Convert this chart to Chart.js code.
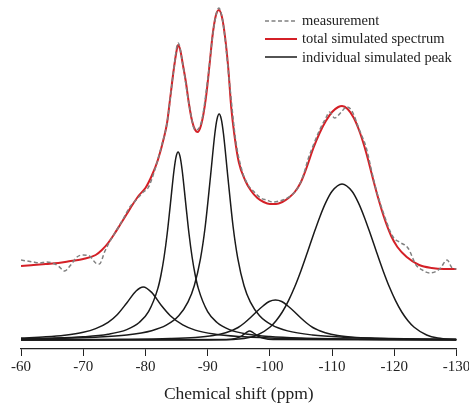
<!DOCTYPE html>
<html>
<head>
<meta charset="utf-8">
<script src="https://cdn.jsdelivr.net/npm/chart.js@4.4.0/dist/chart.umd.min.js"></script>
<style>
  html, body { margin: 0; padding: 0; background: #fff; }
  #wrap { position: relative; width: 469px; height: 407px; }
  #leyenda { position: absolute; left: 265px; top: 11.5px; font-family: "Liberation Serif", "Times New Roman", serif; font-size: 14.5px; color: #222; }
  #leyenda div { height: 18.3px; display: flex; align-items: center; white-space: nowrap; }
  #leyenda svg { margin-right: 5px; }
</style>
</head>
<body>
<div id="wrap">
  <canvas id="espectro" width="469" height="407"></canvas>
  <div id="leyenda"></div>
</div>
<script>
// [ppm, intensidad (u.a.)]
const measurement = [
  [-60, 80], [-61, 79], [-62, 78], [-63, 77], [-64, 78], [-65, 77], [-66, 74], [-67, 69], [-68, 75], [-69, 83],
  [-70, 85], [-71, 84], [-72, 77], [-72.6, 76], [-73.5, 89], [-74.5, 101], [-75.5, 111], [-76.5, 122], [-77.5, 133],
  [-78.5, 140], [-79.5, 147], [-80.5, 153], [-81.5, 170], [-82.5, 192], [-83.5, 218], [-84.5, 268], [-85.25, 297],
  [-86, 276], [-87, 236], [-88, 210], [-89, 218], [-90, 260], [-91, 313], [-91.8, 332], [-92.5, 316], [-93.5, 258],
  [-94.5, 200], [-95.5, 170], [-96.5, 155], [-97.5, 148], [-98.5, 142], [-99.5, 140], [-100.5, 138], [-101.5, 139],
  [-102.5, 141], [-103.5, 145], [-104.5, 152], [-105.5, 167], [-106.1, 180], [-107, 195], [-108, 210], [-109, 222],
  [-109.6, 228], [-110.4, 222], [-111.5, 228], [-112.3, 233], [-113.1, 230], [-114.4, 210], [-115.5, 192],
  [-116.5, 165], [-117.1, 150], [-118.2, 128], [-119.8, 103], [-120.8, 98], [-122.2, 92], [-123.5, 75],
  [-124.5, 70], [-125.7, 67], [-127.3, 71], [-128.5, 80], [-129.3, 72], [-130, 71]
];

const totalSimulated = [
  [-60, 74], [-62, 75], [-64, 76], [-66, 77], [-68, 79], [-70, 81], [-72, 85], [-73, 90], [-74, 97], [-75, 106],
  [-76, 116], [-77, 126], [-78, 136], [-79, 145], [-80, 152], [-81, 164], [-82, 180], [-83, 203], [-83.5, 218],
  [-84, 243], [-84.5, 268], [-85, 289], [-85.25, 295], [-85.6, 290], [-86, 276], [-86.5, 258], [-87, 236],
  [-87.5, 219], [-88, 210], [-88.4, 208], [-88.8, 212], [-89.3, 225], [-89.8, 246], [-90.3, 275], [-90.8, 305],
  [-91.3, 324], [-91.8, 330], [-92.3, 323], [-92.8, 303], [-93.3, 273], [-93.8, 232], [-94.3, 205], [-95, 178],
  [-96, 160], [-97, 149], [-98, 142], [-99, 138], [-100, 136], [-101, 136], [-102, 138], [-103, 142], [-104, 148],
  [-105, 158], [-106, 174], [-107, 192], [-108, 207], [-109, 219], [-110, 228], [-111, 233], [-111.6, 234],
  [-112.5, 231], [-113.5, 222], [-114.5, 207], [-115.5, 187], [-116.5, 163], [-117.5, 140], [-118.5, 120],
  [-119.5, 104], [-120.5, 93], [-122, 83], [-124, 75], [-126, 72], [-128, 71], [-130, 71]
];

// picos individuales
const peak80 = [
  [-60, 2.0], [-64, 3.2], [-67, 4.8], [-70, 7.7], [-72, 11.4], [-74, 17.7], [-75.5, 25.6], [-77, 37], [-78.5, 49],
  [-79.65, 53], [-81, 47.6], [-82.5, 35], [-84, 24.3], [-86, 15.1], [-88, 9.9], [-91, 5.9], [-95, 3.4], [-100, 2.0],
  [-110, 0.9], [-120, 0.5], [-130, 0.3]
];
const peak85 = [
  [-60, 1.2], [-65, 1.8], [-70, 3.2], [-74, 5.8], [-77, 10.4], [-79, 17.5], [-80.5, 28.3], [-82, 51.6], [-82.5, 65],
  [-83, 83], [-83.5, 106.5], [-84, 135.2], [-84.6, 170], [-84.95, 183.9], [-85.25, 188], [-85.55, 183.9], [-85.9, 170],
  [-86.5, 135.2], [-87, 106.5], [-87.5, 83], [-88, 65], [-88.5, 51.6], [-90, 28.3], [-91.5, 17.5], [-93.5, 10.4],
  [-96.5, 5.8], [-100, 3.4], [-105, 1.9], [-115, 0.8], [-130, 0.4]
];
const peak92 = [
  [-60, 1.1], [-66, 1.7], [-72, 2.8], [-77, 5.0], [-81, 9.3], [-83.35, 14.8], [-85.35, 24.2], [-86.85, 38.1],
  [-87.85, 54.3], [-88.85, 81.4], [-89.6, 113], [-90.45, 163], [-91.15, 206], [-91.5, 220.7], [-91.85, 226],
  [-92.2, 220.7], [-92.55, 206], [-93.25, 163], [-94.1, 113], [-94.85, 81.4], [-95.85, 54.3], [-96.85, 38.1],
  [-98.35, 24.2], [-100.35, 14.8], [-102.85, 9.1], [-106.85, 5.0], [-111.85, 2.8], [-116.85, 1.8], [-124, 1.0],
  [-130, 0.8]
];
const peak97 = [
  [-60, 0], [-93, 0.4], [-94.5, 1.6], [-95.5, 4.2], [-96.2, 7.4], [-96.75, 9], [-97.3, 7.4], [-98, 4.2], [-99, 1.6],
  [-100.5, 0.4], [-130, 0]
];
const peak101 = [
  [-60, 0.2], [-66, 0.3], [-76, 0.7], [-84, 1.5], [-88, 2.6], [-90.9, 4.5], [-92.9, 7.2], [-93.9, 9.5], [-94.9, 12.5],
  [-95.9, 17], [-96.9, 22.5], [-97.9, 28.5], [-98.9, 34], [-99.9, 38.5], [-100.9, 40], [-101.9, 38.5], [-102.9, 34],
  [-103.9, 28.5], [-104.9, 22.5], [-105.9, 17], [-106.9, 12.5], [-107.9, 9.5], [-108.9, 7.2], [-110.9, 4.5],
  [-113.9, 2.6], [-117.9, 1.5], [-125.9, 0.7], [-130, 0.5]
];
const peak112 = [
  [-60, 0], [-90, 0], [-95, 0.9], [-98, 5], [-100, 12.7], [-101, 19.3], [-102, 28], [-103, 39.4], [-104, 53.2],
  [-105, 69.3], [-106, 87], [-107, 105.2], [-108, 122.6], [-109, 137.6], [-110, 148.7], [-111.6, 156], [-113.2, 148.7],
  [-114.2, 137.6], [-115.2, 122.6], [-116.2, 105.2], [-117.2, 87], [-118.2, 69.3], [-119.2, 53.2], [-120.2, 39.4],
  [-121.2, 28], [-122.2, 19.3], [-123.2, 12.7], [-125.2, 5], [-127, 1.9], [-130, 0.3]
];

const xTicks = [-60, -70, -80, -90, -100, -110, -120, -130];

const aPuntos = arr => arr.map(p => ({ x: p[0], y: p[1] }));

const linea = {
  pointRadius: 0,
  fill: false,
  tension: 0.4,
  cubicInterpolationMode: 'monotone'
};

const picos = [peak80, peak85, peak92, peak97, peak101, peak112].map(p => ({
  ...linea,
  label: 'individual simulated peak',
  data: aPuntos(p),
  borderColor: '#1a1a1a',
  borderWidth: 1.5
}));

const chart = new Chart(document.getElementById('espectro'), {
  type: 'line',
  data: {
    datasets: [
      {
        ...linea,
        label: 'measurement',
        data: aPuntos(measurement),
        borderColor: '#808080',
        borderWidth: 1.5,
        borderDash: [4, 2.5]
      },
      {
        ...linea,
        label: 'total simulated spectrum',
        data: aPuntos(totalSimulated),
        borderColor: '#d42027',
        borderWidth: 2
      },
      ...picos
    ]
  },
  options: {
    responsive: false,
    animation: false,
    layout: { padding: { left: 21, right: 12.5, top: 5, bottom: 0 } },
    plugins: {
      legend: { display: false },
      tooltip: { enabled: false }
    },
    scales: {
      x: {
        type: 'linear',
        min: -130,
        max: -60,
        reverse: true,
        afterBuildTicks: scale => { scale.ticks = xTicks.map(v => ({ value: v })); },
        afterFit: scale => {
          scale.height = 58;
          // que la etiqueta -130 no empuje el area del grafico
          scale.paddingLeft = 0;
          scale.paddingRight = 0;
        },
        ticks: {
          color: '#222',
          padding: 2,
          maxRotation: 0,
          font: { family: 'Liberation Serif', size: 15 }
        },
        grid: { drawOnChartArea: false, drawTicks: true, tickLength: 7, color: '#222', lineWidth: 1 },
        border: { display: true, color: '#222', width: 1.3 },
        title: {
          display: true,
          text: 'Chemical shift (ppm)',
          color: '#222',
          font: { family: 'Liberation Serif', size: 17.5 },
          padding: { top: 4, bottom: 2 }
        }
      },
      y: { display: false, min: -9, max: 335 }
    }
  }
});

// leyenda en html, arriba a la derecha
const leyenda = document.getElementById('leyenda');
const vistos = new Set();
chart.data.datasets.forEach(ds => {
  if (vistos.has(ds.label)) return;
  vistos.add(ds.label);
  const fila = document.createElement('div');
  const dash = ds.borderDash ? ds.borderDash.join(' ') : 'none';
  fila.innerHTML =
    `<svg width="32" height="4"><line x1="0" y1="2" x2="32" y2="2" stroke="${ds.borderColor}" stroke-width="${ds.borderWidth}" stroke-dasharray="${dash}"/></svg>` +
    `<span>${ds.label}</span>`;
  leyenda.appendChild(fila);
});
</script>
</body>
</html>
